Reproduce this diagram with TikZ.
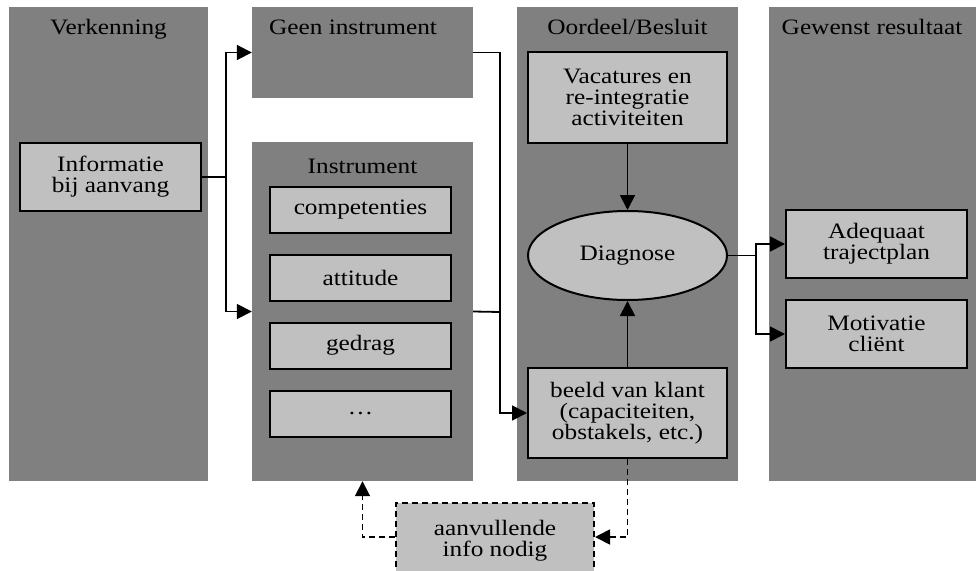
\documentclass[tikz,border=0pt]{standalone}
\usepackage{fontspec}
\setmainfont[FakeStretch=1.15]{Liberation Serif}
\usetikzlibrary{arrows.meta,shapes.geometric}
\definecolor{panelgray}{RGB}{128,128,128}
\definecolor{boxgray}{RGB}{192,192,192}

\begin{document}
\begin{tikzpicture}[x=1pt, y=-1pt,
    every node/.style={font=\fontsize{22}{21}\selectfont},
    panel/.style={rectangle, fill=panelgray, inner sep=0pt},
    box/.style={rectangle, draw, line width=2pt, fill=boxgray, inner sep=0pt, align=center},
    link/.style={line width=1.8pt},
    >={Triangle[length=15pt,width=15pt]},
    dashedlink/.style={line width=1.8pt, dash pattern=on 6pt off 4pt}]
      \useasboundingbox (0,0) rectangle (976,570);

      \node[panel, minimum width=199, minimum height=474] (verk) at (108.5, 244) {};
      \node[panel, minimum width=221, minimum height=91] (geen) at (362.5, 52.5) {};
      \node[panel, minimum width=221, minimum height=339] (instr) at (362.5, 311.5) {};
      \node[panel, minimum width=221, minimum height=474] (oordeel) at (627.5, 244) {};
      \node[panel, minimum width=216, minimum height=474] (gewenst) at (877, 244) {};

      \node[anchor=base] (verktitle) at (108.5, 34) {Verkenning};
      \node[anchor=base] (geentitle) at (353, 34) {Geen instrument};
      \node[anchor=base] (instrtitle) at (362.5, 173) {Instrument};
      \node[anchor=base] (oordeeltitle) at (627.5, 34) {Oordeel/Besluit};
      \node[anchor=base] (gewensttitle) at (872, 34) {Gewenst resultaat};

      \node[box, minimum width=181, minimum height=68] (info) at (110.5, 177) {Informatie\\bij aanvang};
      \foreach \t/\y [count=\i] in {competenties/210, attitude/277.5, gedrag/345.5, \dots/413.5} {
          \node[box, minimum width=181, minimum height=46] (item\i) at (360.5, \y) {\t};
      }
      \node[box, minimum width=199, minimum height=91] (vac) at (627.5, 97.5) {Vacatures en\\re-integratie\\activiteiten};
      \node[box, ellipse, minimum width=199, minimum height=89] (diag) at (627.5, 255.5) {Diagnose};
      \node[box, minimum width=199, minimum height=90] (beeld) at (627.5, 413) {beeld van klant\\(capaciteiten,\\obstakels, etc.)};
      \node[box, minimum width=181, minimum height=68] (adeq) at (876.5, 244) {Adequaat\\trajectplan};
      \node[box, minimum width=181, minimum height=68] (motiv) at (876.5, 334) {Motivatie\\cliënt};
      \node[box, dash pattern=on 6pt off 4pt, minimum width=198, minimum height=76] (extra) at (495, 541) {aanvullende\\info nodig};

      \coordinate (split1) at (226, 177);
      \coordinate (join) at (500, 312);
      \coordinate (split2) at (756, 255.5);

      \draw[link] (info.east) -- (split1);
      \draw[link, ->] (split1) |- (geen.west);
      \draw[link, ->] (split1) |- (instr.west);
      \draw[link] (geen.east) -| (join);
      \draw[link] (instr.east) -- (join);
      \draw[link, ->] (join) |- (beeld.west);
      \draw[link, ->] (vac.south) -- (diag.north);
      \draw[link, ->] (beeld.north) -- (diag.south);
      \draw[link] (diag.east) -- (split2);
      \draw[link, ->] (split2) |- (adeq.west);
      \draw[link, ->] (split2) |- (motiv.west);
      \draw[dashedlink, ->] (beeld.south) |- ([yshift=4pt]extra.east);
      \draw[dashedlink, ->] ([yshift=4pt]extra.west) -| (instr.south);
    \end{tikzpicture}
\end{document}
